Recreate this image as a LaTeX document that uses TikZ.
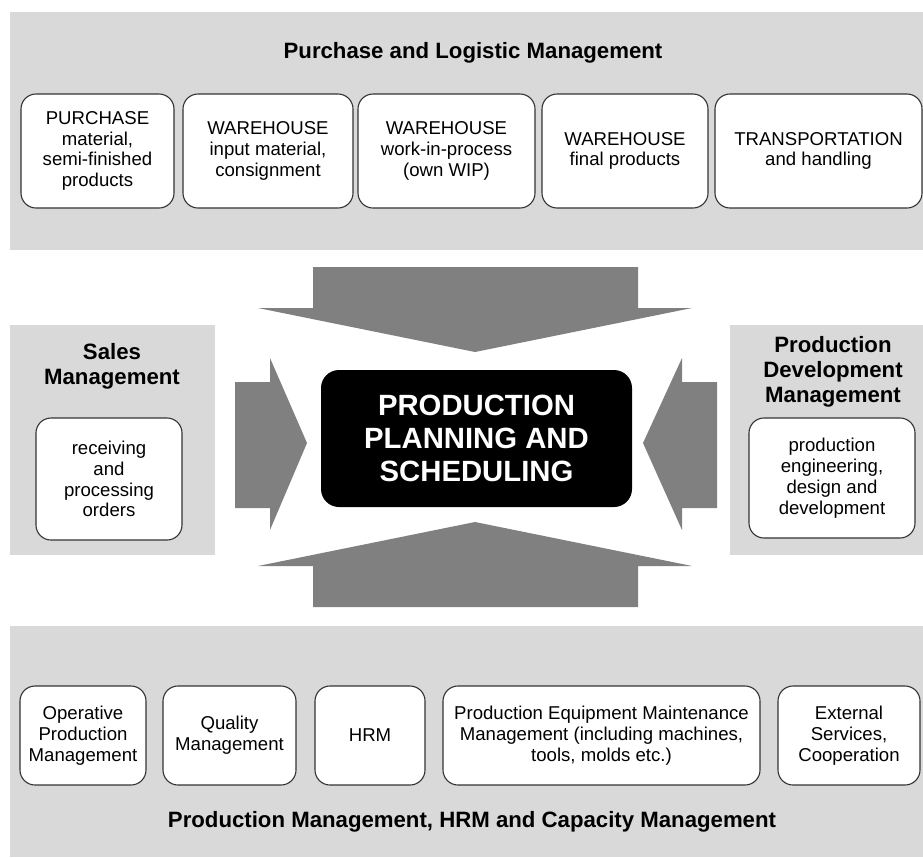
\documentclass[tikz,border=0pt]{standalone}
\usepackage{fontspec}
\setmainfont{Liberation Sans}
\definecolor{painelcor}{HTML}{D9D9D9}
\definecolor{setacor}{HTML}{808080}

\begin{document}
\begin{tikzpicture}[x=1pt, y=-1pt,
  caixa/.style={draw=black!80, fill=white, rounded corners=15pt, line width=1.1pt,
    align=center, inner sep=2pt, font=\fontsize{18.6}{20.8}\selectfont},
  titulo/.style={align=center, font=\fontsize{22.2}{25}\selectfont\bfseries},
  seta/.style={fill=setacor, draw=none}]
\useasboundingbox (0,0) rectangle (923,857);

% Paineis
\fill[painelcor] (10,12) rectangle (923,250);
\fill[painelcor] (10,325) rectangle (215,555);
\fill[painelcor] (730,325) rectangle (923,555);
\fill[painelcor] (10,626) rectangle (923,857);

% Blocos de cima
\node[titulo] (tcima) at (473,53) {Purchase and Logistic Management};
\node[caixa, minimum width=153pt, minimum height=114pt] (pur) at (97.5,151) {PURCHASE\\material,\\semi-finished\\products};
\node[caixa, minimum width=170pt, minimum height=114pt] (whin) at (268,151) {WAREHOUSE\\input material,\\consignment};
\node[caixa, minimum width=177pt, minimum height=114pt] (wip) at (446.5,151) {WAREHOUSE\\work-in-process\\(own WIP)};
\node[caixa, minimum width=166pt, minimum height=114pt] (whfin) at (625,151) {WAREHOUSE\\final products};
\node[caixa, minimum width=207pt, minimum height=114pt] (trans) at (818.5,151) {TRANSPORTATION\\and handling};

% Laterais
\node[titulo] (tsal) at (112,366) {Sales\\Management};
\node[caixa, minimum width=146pt, minimum height=122pt] (sal) at (109,479) {receiving\\and\\processing\\orders};
\node[titulo] (tdev) at (833,372) {Production\\Development\\Management};
\node[caixa, minimum width=166pt, minimum height=120pt] (dev) at (832,478) {production\\engineering,\\design and\\development};

% Bloco central
\node[fill=black, text=white, rounded corners=18pt, minimum width=311pt, minimum height=137pt,
  align=center, font=\fontsize{29.3}{33}\selectfont\bfseries] (pps) at (476.5,438.5)
  {PRODUCTION\\PLANNING AND\\SCHEDULING};

% Setas
\fill[seta] (313,267) -- (638,267) -- (638,308) -- (692,308) -- (475,352) -- (258,308) -- (313,308) -- cycle;
\fill[seta] (313,607) -- (638,607) -- (638,566) -- (692,566) -- (475,522) -- (258,566) -- (313,566) -- cycle;
\fill[seta] (235,382) -- (270,382) -- (270,358) -- (307,443) -- (270,530) -- (270,508) -- (235,508) -- cycle;
\fill[seta] (717,382) -- (682,382) -- (682,358) -- (643,443) -- (682,530) -- (682,508) -- (717,508) -- cycle;

% Blocos de baixo
\node[caixa, minimum width=126pt, minimum height=99pt] (opm) at (83,735.5) {Operative\\Production\\Management};
\node[caixa, minimum width=133pt, minimum height=99pt] (qm) at (229.5,735.5) {Quality\\Management};
\node[caixa, minimum width=110pt, minimum height=99pt] (hrm) at (370,735.5) {HRM};
\node[caixa, minimum width=317pt, minimum height=99pt] (pem) at (601.5,735.5) {Production Equipment Maintenance\\Management (including machines,\\tools, molds etc.)};
\node[caixa, minimum width=142pt, minimum height=99pt] (ext) at (849,735.5) {External\\Services,\\Cooperation};
\node[titulo] (tbaixo) at (472,822) {Production Management, HRM and Capacity Management};
\end{tikzpicture}
\end{document}
